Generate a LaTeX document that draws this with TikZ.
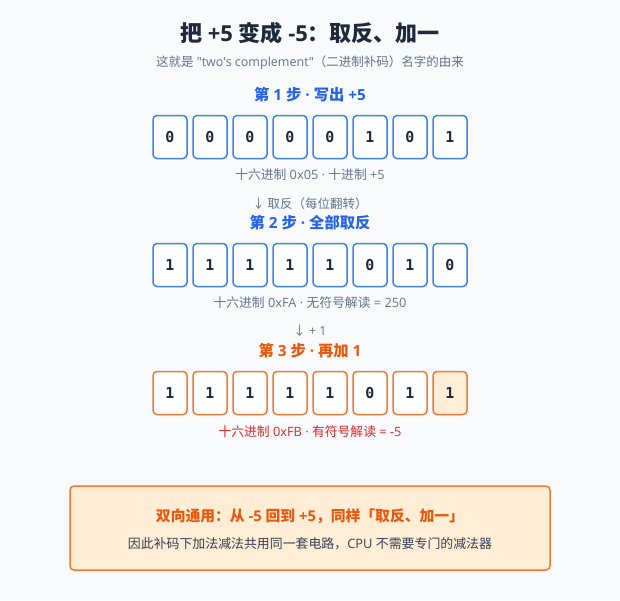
\documentclass[tikz,border=0pt]{standalone}
\usepackage{fontspec}
\setmainfont{Open Sans}[Ligatures=TeXOff]
\newfontfamily\cjk{Noto Sans CJK SC}
\newcommand\zh[1]{{\cjk #1}}
\newfontfamily\bitfont{DejaVu Sans Mono}
\definecolor{bg}{HTML}{F8FAFC}
\definecolor{titlec}{HTML}{1E293B}
\definecolor{grayc}{HTML}{64748B}
\definecolor{bluec}{HTML}{2563EB}
\definecolor{blueb}{HTML}{3B82F6}
\definecolor{orangec}{HTML}{EA580C}
\definecolor{orangeb}{HTML}{F07A3A}
\definecolor{orangef}{HTML}{FFEDD5}
\definecolor{redc}{HTML}{DC2626}
\definecolor{bodyc}{HTML}{334155}
\tikzset{
  bitbox/.style={draw, line width=1.5pt, rounded corners=4pt, minimum width=34pt, minimum height=43pt, inner sep=0pt, fill=white, text=titlec, font=\bitfont\bfseries\fontsize{15}{18}\selectfont},
  bitblue/.style={bitbox, draw=blueb},
  bitorange/.style={bitbox, draw=orangeb},
  bithi/.style={bitbox, draw=orangeb, fill=orangef},
  titletext/.style={text=titlec, font=\bfseries\fontsize{22}{26}\selectfont},
  subtext/.style={text=grayc, font=\fontsize{12.5}{15}\selectfont},
  steptext/.style={font=\bfseries\fontsize{15.3}{18}\selectfont},
  notetext/.style={text=grayc, font=\fontsize{12.8}{15}\selectfont},
  calloutbox/.style={draw=orangeb, fill=orangef, line width=1.5pt, rounded corners=4pt}
}
\begin{document}
\begin{tikzpicture}[x=1pt,y=-1pt]
\useasboundingbox[fill=bg] (0,0) rectangle (620,600);
\node[titletext] (title) at (310,33) {\zh{把} +5 \zh{变成} -5\zh{：取反、加一}};
\node[subtext] (subtitle) at (310,62.5) {\zh{这就是} "two's complement"\zh{（二进制补码）名字的由来}};
\node[steptext, text=bluec] (step1) at (310,95) {\zh{第} 1 \zh{步} · \zh{写出} +5};
\foreach \b [count=\i] in {0,0,0,0,0,1,0,1}
  \node[bitblue] (a\i) at ({130+40*\i},137) {\b};
\node[notetext] (hex1) at (310,175) {\zh{十六进制} 0x05 · \zh{十进制} +5};
\node[subtext] (op1) at (310,204) {\zh{↓ 取反（每位翻转）}};
\node[steptext, text=bluec] (step2) at (310,222.5) {\zh{第} 2 \zh{步} · \zh{全部取反}};
\foreach \b [count=\i] in {1,1,1,1,1,0,1,0}
  \node[bitblue] (b\i) at ({130+40*\i},265) {\b};
\node[notetext] (hex2) at (310,303) {\zh{十六进制} 0xFA · \zh{无符号解读} = 250};
\node[subtext] (op2) at (310,331) {\zh{↓} + 1};
\node[steptext, text=orangec] (step3) at (310,350.5) {\zh{第} 3 \zh{步} · \zh{再加} 1};
\foreach \b [count=\i] in {1,1,1,1,1,0,1}
  \node[bitorange] (c\i) at ({130+40*\i},393) {\b};
\node[bithi] (c8) at (450,393) {1};
\node[notetext, text=redc] (hex3) at (310,432) {\zh{十六进制} 0xFB · \zh{有符号解读} = -5};
\node[calloutbox, minimum width=480pt, minimum height=84pt] (callout) at (310,528) {};
\node[text=orangec, font=\bfseries\fontsize{14.8}{18}\selectfont] (callhead) at (310,516) {\zh{双向通用：从} -5 \zh{回到} +5\zh{，同样「取反、加一」}};
\node[text=bodyc, font=\fontsize{12.9}{15}\selectfont] (callbody) at (310,544) {\zh{因此补码下加法减法共用同一套电路，}CPU \zh{不需要专门的减法器}};
\end{tikzpicture}
\end{document}
